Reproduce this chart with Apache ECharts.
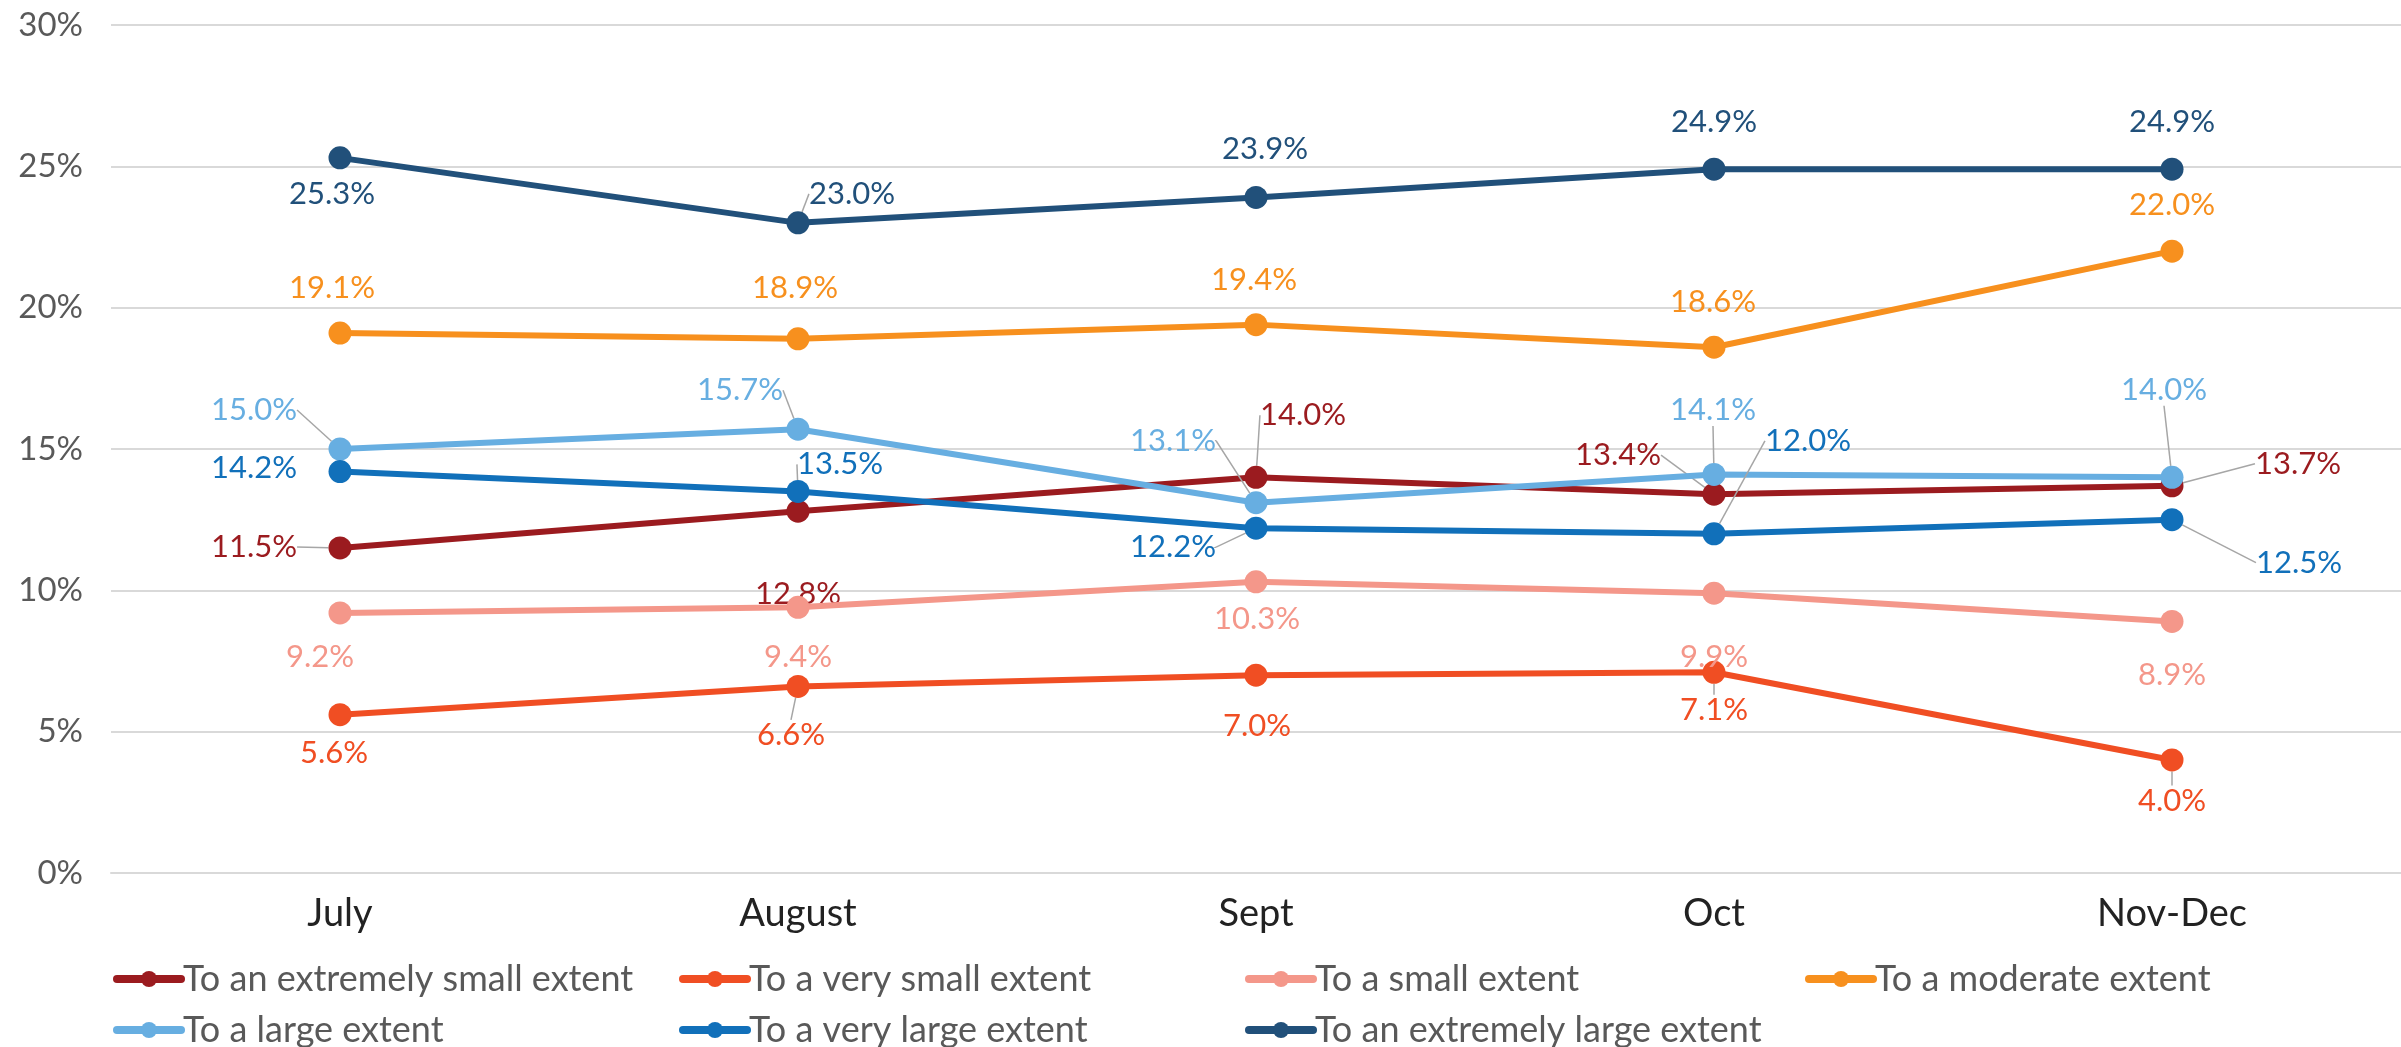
<!DOCTYPE html>
<html>
<head>
<meta charset="utf-8">
<script src="https://cdn.jsdelivr.net/npm/echarts@6/dist/echarts.min.js"></script>
<style>
  html, body { margin: 0; padding: 0; background: #fff; }
  #chart { width: 2401px; height: 1047px; }
</style>
</head>
<body>
<div id="chart"></div>
<script>
const categories = ['July', 'August', 'Sept', 'Oct', 'Nov-Dec']
const yTicks = [0, 5, 10, 15, 20, 25, 30]

const seriesNames = [
  'To an extremely small extent',
  'To a very small extent',
  'To a small extent',
  'To a moderate extent',
  'To a large extent',
  'To a very large extent',
  'To an extremely large extent'
]

const extremelySmall = [11.5, 12.8, 14.0, 13.4, 13.7]
const verySmall = [5.6, 6.6, 7.0, 7.1, 4.0]
const small = [9.2, 9.4, 10.3, 9.9, 8.9]
const moderate = [19.1, 18.9, 19.4, 18.6, 22.0]
const large = [15.0, 15.7, 13.1, 14.1, 14.0]
const veryLarge = [14.2, 13.5, 12.2, 12.0, 12.5]
const extremelyLarge = [25.3, 23.0, 23.9, 24.9, 24.9]

const colors = ['#9b1b1f', '#f04e23', '#f4978a', '#f7901e', '#67aee1', '#1170ba', '#21507a']

// label offsets from each point (px) and whether a leader line is drawn
const labelOffsets = [
  [[-86, -1, 1], [0, 83, 0], [47, -62, 1], [-96, -39, 1], [126, -22, 1]],
  [[-6, 38, 0], [-7, 49, 1], [1, 51, 0], [0, 38, 1], [0, 41, 1]],
  [[-20, 44, 0], [0, 50, 0], [1, 37, 0], [0, 64, 0], [0, 54, 0]],
  [[-8, -45, 0], [-3, -51, 0], [-2, -45, 0], [-1, -45, 0], [0, -46, 0]],
  [[-86, -39, 1], [-58, -39, 1], [-83, -62, 1], [-1, -64, 1], [-8, -87, 1]],
  [[-86, -4, 0], [42, -27, 1], [-83, 19, 1], [94, -93, 1], [127, 43, 1]],
  [[-8, 36, 0], [54, -29, 1], [9, -48, 0], [0, -47, 0], [0, -47, 0]]
]

const values = [extremelySmall, verySmall, small, moderate, large, veryLarge, extremelyLarge]

const font = 'Lato, "Open Sans", sans-serif'

const chart = echarts.init(document.getElementById('chart'))

const series = values.map((vals, s) => ({
  name: seriesNames[s],
  type: 'line',
  data: vals.map((v, i) => ({
    value: v,
    labelLine: { show: !!labelOffsets[s][i][2] }
  })),
  color: colors[s],
  symbol: 'circle',
  symbolSize: 23,
  lineStyle: { width: 6, color: colors[s] },
  itemStyle: { color: colors[s] },
  z: 10 + s,
  label: {
    show: true,
    formatter: p => p.value.toFixed(1) + '%',
    color: colors[s],
    fontSize: 31,
    fontFamily: font
  },
  labelLine: {
    show: true,
    lineStyle: { color: '#a6a6a6', width: 1.5 }
  },
  labelLayout: p => {
    const o = labelOffsets[s][p.dataIndex]
    return {
      x: p.rect.x + p.rect.width / 2 + o[0],
      y: p.rect.y + p.rect.height / 2 + o[1],
      align: 'center',
      verticalAlign: 'middle'
    }
  }
}))

const legendPos = [[108, 956], [674, 956], [1240, 956], [1800, 956], [108, 1007], [674, 1007], [1240, 1007]]

const legends = seriesNames.map((n, i) => ({
  data: [n],
  left: legendPos[i][0],
  top: legendPos[i][1],
  itemWidth: 64,
  itemHeight: 20,
  itemGap: 0,
  selectedMode: false,
  lineStyle: { width: 8, cap: 'round' },
  textStyle: { color: '#595959', fontSize: 36, fontFamily: font, padding: [0, 0, 0, -3] }
}))

chart.setOption({
  animation: false,
  grid: { left: 111, right: 0, top: 25, bottom: 174 },
  legend: legends,
  xAxis: {
    type: 'category',
    data: categories,
    axisTick: { show: false },
    axisLine: { lineStyle: { color: '#d9d9d9', width: 2 } },
    axisLabel: { color: '#222', fontSize: 38, fontFamily: font, margin: 22 }
  },
  yAxis: {
    type: 'value',
    min: yTicks[0],
    max: yTicks[yTicks.length - 1],
    interval: yTicks[1] - yTicks[0],
    axisLine: { show: false },
    axisTick: { show: false },
    splitLine: { lineStyle: { color: '#d9d9d9', width: 2 } },
    axisLabel: { color: '#595959', fontSize: 33, fontFamily: font, margin: 28, formatter: '{value}%' }
  },
  series
})
</script>
</body>
</html>
